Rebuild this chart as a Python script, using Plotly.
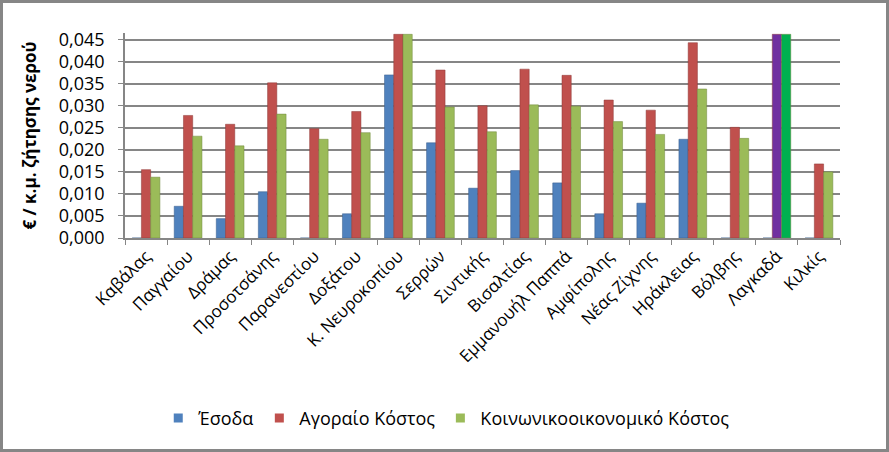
import plotly.graph_objects as go

# Δήμοι (κατηγορίες)
municipalities = [
    "Καβάλας", "Παγγαίου", "Δράμας", "Προσοτσάνης", "Παρανεστίου",
    "Δοξάτου", "Κ. Νευροκοπίου", "Σερρών", "Σιντικής", "Βισαλτίας",
    "Εμμανουήλ Παππά", "Αμφίπολης", "Νέας Ζίχνης", "Ηράκλειας",
    "Βόλβης", "Λαγκαδά", "Κιλκίς",
]

# € / κ.μ. ζήτησης νερού
esoda = [0.0, 0.0072, 0.0044, 0.0105, 0.0, 0.0055, 0.0370, 0.0216, 0.0113,
         0.0153, 0.0125, 0.0055, 0.0079, 0.0224, 0.0, 0.0, 0.0]
agoraio = [0.0155, 0.0278, 0.0258, 0.0352, 0.0248, 0.0287, 0.0462, 0.0381,
           0.0300, 0.0383, 0.0369, 0.0313, 0.0290, 0.0443, 0.0251, 0.0462,
           0.0168]
koinoniko = [0.0138, 0.0231, 0.0209, 0.0281, 0.0224, 0.0239, 0.0462, 0.0297,
             0.0241, 0.0302, 0.0299, 0.0264, 0.0235, 0.0338, 0.0226, 0.0462,
             0.0150]

series_names = ["Έσοδα", "Αγοραίο Κόστος", "Κοινωνικοοικονομικό Κόστος"]
y_ticks = [0.000, 0.005, 0.010, 0.015, 0.020, 0.025, 0.030, 0.035, 0.040, 0.045]

BLUE = "#4F81BD"
RED = "#C0504D"
GREEN = "#9BBB59"

# Λαγκαδάς έχει διαφορετικά χρώματα στο πρωτότυπο
red_colors = ["#7030A0" if m == "Λαγκαδά" else RED for m in municipalities]
green_colors = ["#00B050" if m == "Λαγκαδά" else GREEN for m in municipalities]

W, H = 889, 452
ML, MR, MT, MB = 125, 49, 33, 214

fig = go.Figure()
fig.add_trace(go.Bar(x=municipalities, y=esoda, name=series_names[0], showlegend=False,
                     marker=dict(color=BLUE, line=dict(color="#385D8A", width=0.5))))
fig.add_trace(go.Bar(x=municipalities, y=agoraio, name=series_names[1], showlegend=False,
                     marker=dict(color=red_colors, line=dict(color="#8C3836", width=0.5))))
fig.add_trace(go.Bar(x=municipalities, y=koinoniko, name=series_names[2], showlegend=False,
                     marker=dict(color=green_colors, line=dict(color="#71893F", width=0.5))))

# legend entries with small square keys, like the original
for name, col in zip(series_names, [BLUE, RED, GREEN]):
    fig.add_trace(go.Scatter(x=[None], y=[None], mode="markers", name=name,
                             marker=dict(symbol="square", size=9, color=col)))

pw = W - ML - MR
ph = H - MT - MB

fig.update_layout(
    width=W, height=H,
    margin=dict(l=ML, r=MR, t=MT, b=MB, pad=0),
    paper_bgcolor="white", plot_bgcolor="white",
    separators=",.",
    barmode="group", bargap=0.34, bargroupgap=0.0,
    font=dict(family="Open Sans", size=16, color="black"),
    showlegend=True,
    legend=dict(orientation="h", x=0.45, xanchor="center", y=-0.88, yanchor="middle",
                font=dict(size=18), itemwidth=30, traceorder="normal"),
    xaxis=dict(
        tickangle=-45, tickfont=dict(size=17),
        showline=True, linecolor="#868686", linewidth=1.5,
        ticks="outside", tickson="boundaries", ticklen=5, tickcolor="#868686",
        showgrid=False,
    ),
    yaxis=dict(
        range=[0, 0.0465], tickvals=y_ticks, tickformat=".3f",
        tickfont=dict(size=18), ticklabelstandoff=10,
        showline=True, linecolor="#868686", linewidth=1.5,
        ticks="outside", ticklen=5, tickcolor="#868686",
        showgrid=True, gridcolor="#868686", gridwidth=1.5,
        zeroline=False,
        title=dict(text="<b>€ / κ.μ. ζήτησης νερού</b>", font=dict(size=17), standoff=18),
    ),
    shapes=[dict(
        type="rect", xref="paper", yref="paper",
        x0=-(ML - 1.5) / pw, x1=1 + (MR - 1.5) / pw,
        y0=-(MB - 1.5) / ph, y1=1 + (MT - 1.5) / ph,
        line=dict(color="#868686", width=3), fillcolor="rgba(0,0,0,0)",
        layer="below",
    )],
)

fig.write_html("out.html", config={"displayModeBar": False},
               post_script="document.body.style.margin='0';")
